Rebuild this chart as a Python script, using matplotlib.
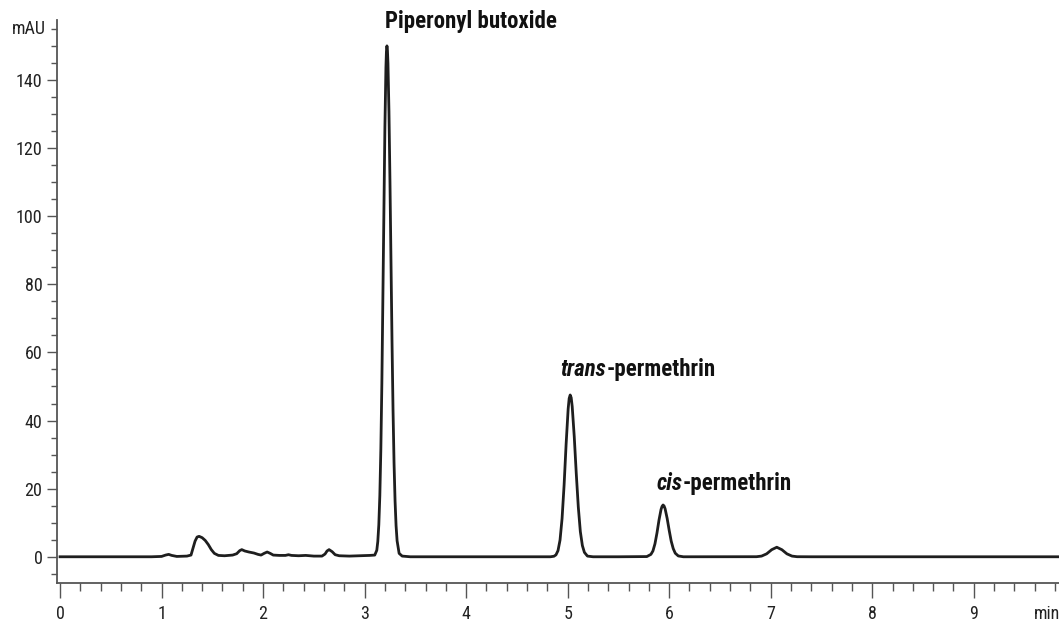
import numpy as np
import matplotlib.pyplot as plt
import matplotlib.font_manager as fm

# look for a condensed sans face (the original uses a condensed grotesque)
def find_font(bold, italic):
    prefs = ['Roboto Condensed', 'Liberation Sans Narrow', 'Open Sans Condensed',
             'Open Sans', 'DejaVu Sans', 'Noto Sans']
    for pref in prefs:
        for f in fm.fontManager.ttflist:
            w = f.weight if isinstance(f.weight, int) else (700 if 'bold' in str(f.weight) else 400)
            if f.name != pref:
                continue
            if 'condensed' not in str(f.stretch) and 'Condensed' not in pref and 'Narrow' not in pref:
                continue
            if (w >= 600) != bold:
                continue
            if (f.style != 'normal') != italic:
                continue
            if not bold and w < 350:
                continue
            return fm.FontProperties(fname=f.fname)
    return fm.FontProperties(family='Roboto', weight='bold' if bold else 'normal',
                             style='italic' if italic else 'normal')

fp_reg = find_font(False, False)
fp_bold = find_font(True, False)
fp_bold_it = find_font(True, True)

# retention time (min) and absorbance (mAU)
time = [0.0, 0.9, 1.0, 1.04, 1.07, 1.1, 1.15, 1.25, 1.29, 1.31, 1.33, 1.35, 1.37, 1.40,
        1.43, 1.46, 1.49, 1.52, 1.56, 1.62, 1.70, 1.74, 1.77, 1.79, 1.82, 1.86, 1.91,
        1.95, 1.98, 2.01, 2.04, 2.07, 2.10, 2.16, 2.22, 2.25, 2.28, 2.35, 2.42, 2.50,
        2.58, 2.61, 2.63, 2.65, 2.68, 2.71, 2.75, 2.85, 2.95, 3.05,
        3.10, 3.12, 3.13, 3.14, 3.15, 3.16, 3.17, 3.18, 3.19, 3.20, 3.21, 3.215, 3.22,
        3.225, 3.23, 3.24, 3.25, 3.26, 3.27, 3.28, 3.29, 3.30, 3.31, 3.32, 3.34, 3.37,
        3.45, 4.0, 4.5, 4.83, 4.865, 4.885, 4.905, 4.925, 4.945, 4.965, 4.985, 5.005,
        5.015, 5.025, 5.035, 5.045, 5.065, 5.085, 5.105, 5.125, 5.145, 5.165, 5.195, 5.25,
        5.5, 5.78, 5.82, 5.84, 5.86, 5.88, 5.90, 5.92, 5.93, 5.94, 5.95, 5.96, 5.98,
        6.00, 6.02, 6.04, 6.06, 6.09, 6.14, 6.5,
        6.86, 6.91, 6.96, 7.01, 7.06, 7.11, 7.16, 7.21, 7.26, 7.4, 9.9]
signal = [0.0, 0.0, 0.1, 0.5, 0.7, 0.4, 0.1, 0.2, 0.5, 2.5, 4.6, 5.8, 6.0, 5.6,
          4.8, 3.6, 2.1, 1.0, 0.4, 0.3, 0.5, 0.9, 1.8, 2.1, 1.7, 1.4, 1.1,
          0.7, 0.5, 1.0, 1.4, 1.0, 0.5, 0.4, 0.4, 0.6, 0.4, 0.3, 0.4, 0.2,
          0.2, 0.8, 1.7, 2.1, 1.5, 0.6, 0.3, 0.2, 0.3, 0.4,
          0.5, 1.9, 4.5, 9.4, 18.0, 31.6, 50.9, 75.2, 101.6, 126.2, 143.7, 148.4, 150.0,
          148.7, 144.9, 130.6, 109.8, 86.2, 63.2, 43.1, 27.5, 16.4, 9.1, 4.7, 1.0, 0.2,
          0.0, 0.0, 0.0, 0.0, 0.15, 0.56, 1.8, 4.9, 11.2, 21.0, 33.1, 43.4,
          46.5, 47.5, 46.7, 44.1, 35.3, 24.4, 14.6, 7.4, 3.3, 1.3, 0.2, 0.0,
          0.0, 0.06, 0.7, 1.7, 3.8, 7.0, 10.8, 13.9, 14.8, 15.2, 14.9, 14.1, 11.3,
          7.8, 4.6, 2.4, 1.05, 0.24, 0.0, 0.0,
          0.02, 0.2, 0.86, 2.08, 2.8, 2.08, 0.86, 0.2, 0.02, 0.0, 0.0]

# peak labels: italic prefix, plain part, anchor (min, mAU)
label_italic = ['', 'trans', 'cis']
label_plain = ['Piperonyl butoxide', '-permethrin', '-permethrin']
label_x = [3.20, 4.93, 5.88]
label_y = [155.3, 53.1, 19.6]

fig = plt.figure(figsize=(10.59, 6.2), dpi=100)
ax = fig.add_axes([57/1059, 1-583/620, 1-57/1059, 563/620])

ax.plot(time, signal, color='#1e1e1e', lw=2.0, solid_joinstyle='round')

ax.set_xlim(-0.03, 9.84)
ax.set_ylim(-7.7, 157.6)

for s in ['top', 'right']:
    ax.spines[s].set_visible(False)
for s in ['left', 'bottom']:
    ax.spines[s].set_color('#555555')
    ax.spines[s].set_linewidth(1.3)

ax.set_xticks(np.arange(0, 10, 1))
ax.set_xticks(np.arange(0, 9.9, 0.2), minor=True)
ax.set_yticks(np.arange(0, 141, 20))
ax.set_yticks(np.arange(-5, 156, 5), minor=True)

ax.tick_params(axis='x', which='major', length=11, width=1.0, color='#555555',
               pad=4.8, labelcolor='#222222')
ax.tick_params(axis='x', which='minor', length=6, width=1.0, color='#555555')
ax.tick_params(axis='y', which='major', length=7.5, width=1.0, color='#555555',
               pad=3, labelcolor='#222222')
ax.tick_params(axis='y', which='minor', length=4.5, width=1.0, color='#555555')
for lbl in ax.get_xticklabels() + ax.get_yticklabels():
    lbl.set_fontproperties(fp_reg)
    lbl.set_fontsize(13)

ax.text(-0.14, 155, 'mAU', ha='right', va='center', fontproperties=fp_reg,
        fontsize=13, color='#222222', clip_on=False)
ax.text(9.59, -14.1, 'min', ha='left', va='top', fontproperties=fp_reg,
        fontsize=13, color='#222222', clip_on=False)

for it, pl, lx, ly in zip(label_italic, label_plain, label_x, label_y):
    first = ax.text(lx, ly, it, ha='left', va='baseline', fontproperties=fp_bold_it,
                    fontsize=16.5, color='#111111')
    if it:
        ax.annotate(pl, xy=(1, 0), xycoords=first, ha='left', va='bottom',
                    fontproperties=fp_bold, fontsize=16.5, color='#111111')
    else:
        first.set_text(pl)
        first.set_fontproperties(fp_bold)
        first.set_fontsize(16.5)

fig.savefig('out.png', dpi=100)
